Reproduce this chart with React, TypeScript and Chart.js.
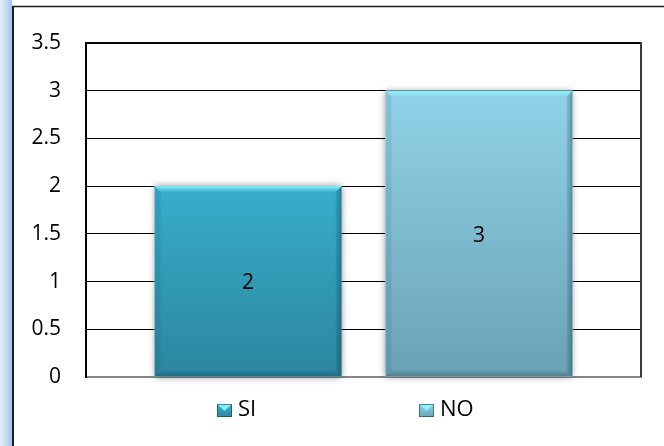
import React, { useEffect, useRef } from "react";
import { Chart, registerables } from "chart.js";

Chart.register(...registerables);

const categories = [""];
const seriesNames = ["SI", "NO"];
const seriesValues = [[2], [3]];
const topColors = ["#38adcb", "#91d2e8"];
const bottomColors = ["#2b869e", "#6aa2b4"];
const yMin = 0;
const yMax = 3.5;
const yStep = 0.5;

const FONT = "'Open Sans', 'Liberation Sans', sans-serif";

const framePlugin = {
  id: "frame",
  beforeDraw(chart: any) {
    const { ctx, width, height } = chart;
    ctx.save();
    ctx.fillStyle = "#ffffff";
    ctx.fillRect(0, 0, width, height);
    const g = ctx.createLinearGradient(0, 0, 12, 0);
    g.addColorStop(0, "#e6effb");
    g.addColorStop(1, "#a3c3ee");
    ctx.fillStyle = g;
    ctx.fillRect(0, 0, 12, height);
    ctx.strokeStyle = "#1e1e1e";
    ctx.lineWidth = 2;
    ctx.beginPath();
    ctx.moveTo(13, 6);
    ctx.lineTo(13, height);
    ctx.stroke();
    ctx.lineWidth = 1.5;
    ctx.beginPath();
    ctx.moveTo(12, 6.5);
    ctx.lineTo(width, 6.5);
    ctx.stroke();
    ctx.restore();
  },
  beforeDatasetsDraw(chart: any) {
    const { ctx } = chart;
    ctx.save();
    chart.data.datasets.forEach((_: any, di: number) => {
      const meta = chart.getDatasetMeta(di);
      meta.data.forEach((bar: any) => {
        const { x, y, base, width } = bar.getProps(["x", "y", "base", "width"], true);
        ctx.save();
        ctx.shadowColor = "rgba(0,0,0,0.45)";
        ctx.shadowBlur = 7;
        ctx.shadowOffsetX = 0;
        ctx.shadowOffsetY = 0;
        ctx.fillStyle = "#ffffff";
        ctx.fillRect(x - width / 2, y, width, base - y);
        ctx.restore();
      });
    });
    ctx.restore();
  },
  afterDatasetsDraw(chart: any) {
    const { ctx, chartArea } = chart;
    ctx.save();
    chart.data.datasets.forEach((ds: any, di: number) => {
      const meta = chart.getDatasetMeta(di);
      meta.data.forEach((bar: any, i: number) => {
        const { x, y, base, width } = bar.getProps(["x", "y", "base", "width"], true);
        const l = x - width / 2;
        const r = x + width / 2;
        const t = y;
        const b = base;
        const s = 6;
        const gt = ctx.createLinearGradient(0, t, 0, t + s);
        gt.addColorStop(0, "rgba(140,245,255,0.95)");
        gt.addColorStop(1, "rgba(140,245,255,0.0)");
        ctx.fillStyle = gt;
        ctx.beginPath();
        ctx.moveTo(l, t);
        ctx.lineTo(r, t);
        ctx.lineTo(r - s, t + s);
        ctx.lineTo(l + s, t + s);
        ctx.closePath();
        ctx.fill();
        const gb = ctx.createLinearGradient(0, b - s, 0, b);
        gb.addColorStop(0, "rgba(0,30,50,0.05)");
        gb.addColorStop(1, "rgba(0,30,50,0.28)");
        ctx.fillStyle = gb;
        ctx.beginPath();
        ctx.moveTo(l, b);
        ctx.lineTo(r, b);
        ctx.lineTo(r - s, b - s);
        ctx.lineTo(l + s, b - s);
        ctx.closePath();
        ctx.fill();
        ctx.fillStyle = "rgba(0,30,50,0.08)";
        ctx.beginPath();
        ctx.moveTo(l, t);
        ctx.lineTo(l + s, t + s);
        ctx.lineTo(l + s, b - s);
        ctx.lineTo(l, b);
        ctx.closePath();
        ctx.fill();
        const gr = ctx.createLinearGradient(r - s, 0, r, 0);
        gr.addColorStop(0, "rgba(0,30,50,0.08)");
        gr.addColorStop(1, "rgba(0,30,50,0.35)");
        ctx.fillStyle = gr;
        ctx.beginPath();
        ctx.moveTo(r, t);
        ctx.lineTo(r - s, t + s);
        ctx.lineTo(r - s, b - s);
        ctx.lineTo(r, b);
        ctx.closePath();
        ctx.fill();
        ctx.fillStyle = "#000000";
        ctx.font = `21px ${FONT}`;
        ctx.textAlign = "center";
        ctx.textBaseline = "middle";
        ctx.fillText(String(ds.data[i]), x, (t + b) / 2 + 2);
      });
    });
    ctx.strokeStyle = "#000000";
    ctx.lineWidth = 2;
    ctx.beginPath();
    ctx.moveTo(chartArea.left, chartArea.top);
    ctx.lineTo(chartArea.right, chartArea.top);
    ctx.stroke();
    ctx.strokeStyle = "#3a3a3a";
    ctx.beginPath();
    ctx.moveTo(chartArea.right, chartArea.top - 1);
    ctx.lineTo(chartArea.right, chartArea.bottom);
    ctx.stroke();
    ctx.restore();
  },
  afterDraw(chart: any) {
    const { ctx } = chart;
    ctx.save();
    const itemX = [217, 419];
    const boxTop = 404;
    const boxSize = 14;
    chart.data.datasets.forEach((ds: any, di: number) => {
      const x0 = itemX[di];
      const g = ctx.createLinearGradient(0, boxTop, 0, boxTop + boxSize);
      g.addColorStop(0, topColors[di]);
      g.addColorStop(1, bottomColors[di]);
      ctx.fillStyle = g;
      ctx.fillRect(x0, boxTop, boxSize + 1, boxSize - 1);
      ctx.fillStyle = "rgba(140,245,255,0.9)";
      ctx.beginPath();
      ctx.moveTo(x0, boxTop);
      ctx.lineTo(x0 + boxSize + 1, boxTop);
      ctx.lineTo(x0 + boxSize / 2 + 0.5, boxTop + boxSize / 2);
      ctx.closePath();
      ctx.fill();
      ctx.strokeStyle = "rgba(0,40,60,0.5)";
      ctx.lineWidth = 1;
      ctx.strokeRect(x0 + 0.5, boxTop + 0.5, boxSize, boxSize - 2);
      ctx.fillStyle = "#000000";
      ctx.font = `22px ${FONT}`;
      ctx.textAlign = "left";
      ctx.textBaseline = "middle";
      ctx.fillText(ds.label, x0 + boxSize + 7, boxTop + 6);
    });
    ctx.restore();
  },
};

export default function App() {
  const ref = useRef<HTMLCanvasElement>(null);
  useEffect(() => {
    if (!ref.current) return;
    const chart = new Chart(ref.current, {
      type: "bar",
      data: {
        labels: categories,
        datasets: seriesNames.map((name, i) => ({
          label: name,
          data: seriesValues[i],
          backgroundColor: (c: any) => {
            const ch = c.chart;
            const ys = ch.scales && ch.scales.y;
            if (!ys || !ch.chartArea) return topColors[i];
            const v = c.raw ?? seriesValues[i][c.dataIndex] ?? 0;
            const top = ys.getPixelForValue(v);
            const bot = ys.getPixelForValue(0);
            const g = ch.ctx.createLinearGradient(0, top, 0, bot);
            g.addColorStop(0, topColors[i]);
            g.addColorStop(1, bottomColors[i]);
            return g;
          },
          borderWidth: 0,
          categoryPercentage: 0.832,
          barPercentage: 0.81,
        })),
      },
      options: {
        animation: false,
        responsive: false,
        maintainAspectRatio: false,
        layout: { padding: { top: 43, right: 23, bottom: 69, left: 0 } },
        plugins: {
          legend: { display: false },
          tooltip: { enabled: false },
        },
        scales: {
          x: {
            grid: { display: false, drawTicks: false },
            ticks: { display: false },
            border: { display: true, color: "#868686", width: 2 },
            afterFit: (s: any) => {
              s.height = 0;
            },
          },
          y: {
            min: yMin,
            max: yMax,
            ticks: {
              stepSize: yStep,
              padding: 25,
              color: "#000000",
              font: { family: FONT, size: 21 },
              callback: (v: any) => String(Number(v)),
            },
            grid: {
              drawTicks: false,
              color: (c: any) => (c.tick && c.tick.value === 0 ? "rgba(0,0,0,0)" : "#000000"),
              lineWidth: 1,
            },
            border: { display: true, color: "#000000", width: 2 },
            afterFit: (s: any) => {
              s.width = 86;
            },
          },
        },
      },
      plugins: [framePlugin],
    });
    return () => chart.destroy();
  }, []);
  return (
    <div style={{ position: "fixed", left: 0, top: 0, width: 664, height: 446 }}>
      <canvas ref={ref} width={664} height={446} style={{ display: "block", width: 664, height: 446 }} />
    </div>
  );
}
